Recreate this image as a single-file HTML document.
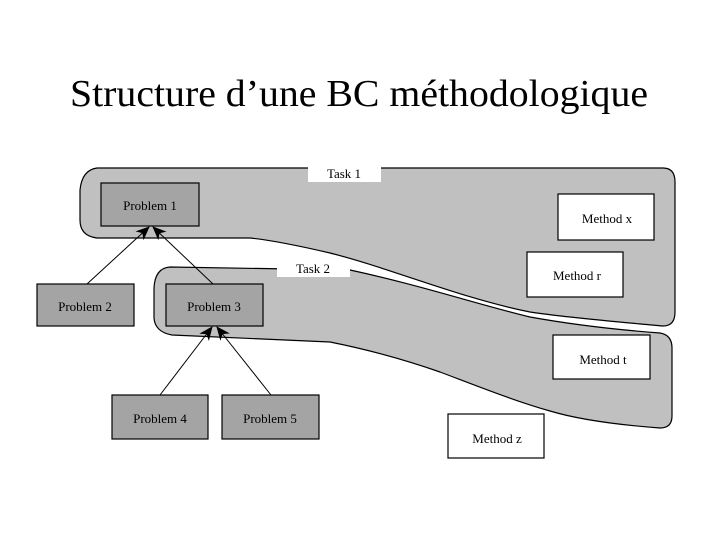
<!DOCTYPE html>
<html><head><meta charset="utf-8"><style>
html,body{margin:0;padding:0;background:#fff;width:719px;height:539px;overflow:hidden}
svg{display:block}
text{font-family:"Liberation Serif",serif;fill:#000}
</style></head><body>
<svg width="719" height="539" viewBox="0 0 719 539" xmlns="http://www.w3.org/2000/svg">
<defs>
<marker id="ah" markerWidth="14" markerHeight="12" refX="13" refY="6" orient="auto" markerUnits="userSpaceOnUse">
<path d="M0,0 L14,6 L0,12 L4,6 Z" fill="#000"/>
</marker>
</defs>
<text x="359" y="106" font-size="38" text-anchor="middle" textLength="578" lengthAdjust="spacingAndGlyphs">Structure d’une BC méthodologique</text>

<!-- Task 2 shape -->
<path d="M170,267 L350,270 C420,285 480,305 530,317 C580,326 620,330 660,333 Q672,335 672,348 L672,416 Q672,428 660,428 C620,425 580,420 550,411 C515,401 485,389 440,372 C400,358 360,348 330,342 L172,335 Q155,332 154,318 L154,288 Q155,268 170,267 Z" fill="#c0c0c0" stroke="#000" stroke-width="1.2"/>
<!-- Task 1 shape -->
<path d="M97,168 L663,168 Q675,168 675,182 L675,312 Q675,326 663,326 C620,322 570,318 530,312 C460,298 390,268 330,253 C300,246 270,240 250,238 L97,238 Q80,236 80,220 L80,190 Q82,170 97,168 Z" fill="#c0c0c0" stroke="#000" stroke-width="1.2"/>

<!-- labels -->
<rect x="308" y="165" width="73" height="17" fill="#fff"/>
<text x="344" y="178" font-size="13" text-anchor="middle">Task 1</text>
<rect x="277" y="260" width="73" height="17" fill="#fff"/>
<text x="313" y="273" font-size="13" text-anchor="middle">Task 2</text>

<!-- arrows -->
<g stroke="#000" stroke-width="1">
<line x1="87" y1="284" x2="149" y2="227" marker-end="url(#ah)"/>
<line x1="213" y1="284" x2="153" y2="227" marker-end="url(#ah)"/>
<line x1="160" y1="395" x2="212" y2="327" marker-end="url(#ah)"/>
<line x1="271" y1="395" x2="217" y2="327" marker-end="url(#ah)"/>
</g>

<!-- problem boxes -->
<g fill="#a4a4a4" stroke="#000" stroke-width="1.2">
<rect x="101" y="183" width="98" height="43"/>
<rect x="37" y="284" width="97" height="42"/>
<rect x="166" y="284" width="97" height="42"/>
<rect x="112" y="395" width="96" height="44"/>
<rect x="222" y="395" width="97" height="44"/>
</g>
<g font-size="13" text-anchor="middle">
<text x="150" y="210">Problem 1</text>
<text x="85" y="311">Problem 2</text>
<text x="214" y="311">Problem 3</text>
<text x="160" y="423">Problem 4</text>
<text x="270" y="423">Problem 5</text>
</g>

<!-- method boxes -->
<g fill="#fff" stroke="#000" stroke-width="1.2">
<rect x="558" y="194" width="96" height="46"/>
<rect x="527" y="252" width="96" height="45"/>
<rect x="553" y="335" width="97" height="44"/>
<rect x="448" y="414" width="96" height="44"/>
</g>
<g font-size="13" text-anchor="middle">
<text x="607" y="223">Method x</text>
<text x="577" y="280">Method r</text>
<text x="603" y="364">Method t</text>
<text x="497" y="443">Method z</text>
</g>
</svg>
</body></html>
